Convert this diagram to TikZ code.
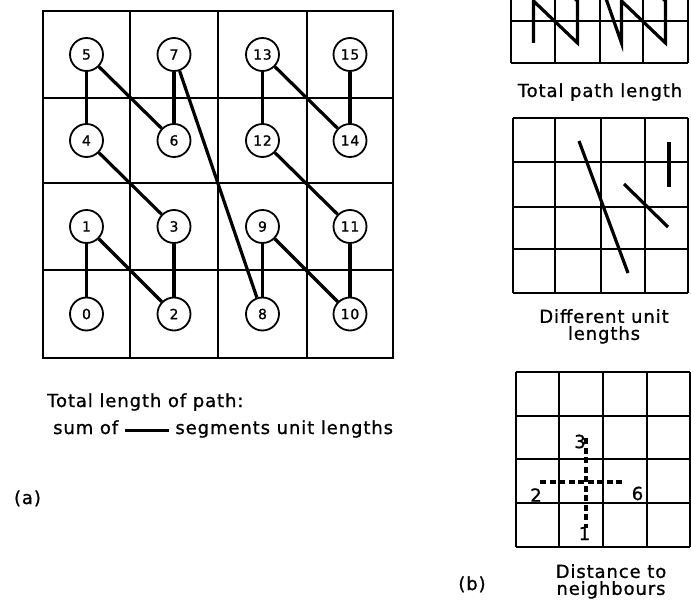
\documentclass[tikz,border=0pt]{standalone}
\usepackage{fontspec}
\setmainfont{DejaVu Sans}[LetterSpace=5, FakeBold=1]
\usetikzlibrary{arrows.meta,positioning,calc}

\begin{document}
\begin{tikzpicture}[x=1pt, y=-1pt,
    cell/.style={line width=2pt},
    frame/.style={line width=2.6pt},
    cnode/.style={draw, circle, line width=1.8pt, minimum size=33pt, inner sep=0pt,
      fill=white, font=\fontsize{14}{14}\selectfont},
    link/.style={line width=3.2pt},
    trace/.style={line width=3.2pt, line join=miter},
    hop/.style={line width=3.2pt, dash pattern=on 6pt off 3.5pt},
    lbl/.style={font=\fontsize{18}{17}\selectfont, align=center, inner sep=0pt},
  ]
  \useasboundingbox (0,0) rectangle (691,610);
  \clip (0,0) rectangle (691,610);

  % (a) the 4x4 grid with the numbered path
  \foreach \x in {43,130,218,307,393}
    \draw[cell] (\x,11) -- (\x,358);
  \foreach \y in {11,98,183,270,358}
    \draw[cell] (43,\y) -- (393,\y);
  \draw[frame] (43,11) rectangle (393,358);
  \foreach \i/\c/\r in {0/86.5/314, 1/86.5/226.5, 2/174/314, 3/174/226.5,
                        4/86.5/140.5, 5/86.5/54.5, 6/174/140.5, 7/174/54.5,
                        8/262.5/314, 9/262.5/226.5, 10/350/314, 11/350/226.5,
                        12/262.5/140.5, 13/262.5/54.5, 14/350/140.5, 15/350/54.5}
    \node[cnode] (n\i) at (\c,\r) {\i};
  \foreach \a/\b in {0/1, 1/2, 2/3, 3/4, 4/5, 5/6, 6/7, 7/8,
                     8/9, 9/10, 10/11, 11/12, 12/13, 13/14, 14/15}
    \draw[link] (n\a) -- (n\b);

  \node[lbl, anchor=base west] (pathnote) at (47,407) {Total length of path:};
  \node[lbl, anchor=base west] (sumnote) at (53,434)
    {sum of \rule[2.2pt]{44pt}{2.6pt} segments unit lengths};
  \node[lbl, anchor=base] (tagA) at (27.5,504) {(a)};

  % (b) top: the same path, cut by the page edge
  \foreach \x in {511,555,600,643,688}
    \draw[cell] (\x,-105) -- (\x,63);
  \foreach \y in {-105,-63,-21,21,63}
    \draw[cell] (511,\y) -- (688,\y);
  \foreach \i/\c/\r in {0/0/0, 1/0/1, 2/1/0, 3/1/1, 4/0/2, 5/0/3, 6/1/2, 7/1/3,
                        8/2/0, 9/2/1, 10/3/0, 11/3/1, 12/2/2, 13/2/3, 14/3/2, 15/3/3}
    \coordinate (p\i) at ({533.5+44*\c},{43-42*\r});
  \draw[trace] (p0) \foreach \i in {1,...,15} { -- (p\i) };
  \node[lbl, anchor=base] (pathlen) at (600,97) {Total path length};

  % (b) middle: segments of different lengths
  \foreach \x in {513,555,601,645,688}
    \draw[cell] (\x,118) -- (\x,293);
  \foreach \y in {118,162,207,249,293}
    \draw[cell] (513,\y) -- (688,\y);
  \coordinate (longA) at (579,141);
  \coordinate (longB) at (628,273);
  \coordinate (midA) at (624,184);
  \coordinate (midB) at (668,227);
  \coordinate (shortA) at (669,142);
  \coordinate (shortB) at (669,187);
  \draw[trace] (longA) -- (longB);
  \draw[trace] (midA) -- (midB);
  \draw[trace] (shortA) -- (shortB);
  \node[lbl, anchor=north] (unitlen) at (604,309) {Different unit\\lengths};

  % (b) bottom: distance to the neighbours
  \foreach \x in {516,559,603,647,690}
    \draw[cell] (\x,372) -- (\x,547);
  \foreach \y in {372,416,459,503,547}
    \draw[cell] (516,\y) -- (690,\y);
  \coordinate (west) at (540,482);
  \coordinate (east) at (623,482);
  \coordinate (north) at (586,438);
  \coordinate (south) at (586,528);
  \draw[hop] (west) -- (east);
  \draw[hop] (north) -- (south);
  \node[lbl] (dN) at (580,441.5) {3};
  \node[lbl] (dW) at (536,495) {2};
  \node[lbl] (dE) at (637.5,493.5) {6};
  \node[lbl] (dS) at (584.5,533.5) {1};
  \node[lbl, anchor=north] (nbdist) at (611,564) {Distance to\\neighbours};
  \node[lbl, anchor=base] (tagB) at (472,590) {(b)};
\end{tikzpicture}
\end{document}
